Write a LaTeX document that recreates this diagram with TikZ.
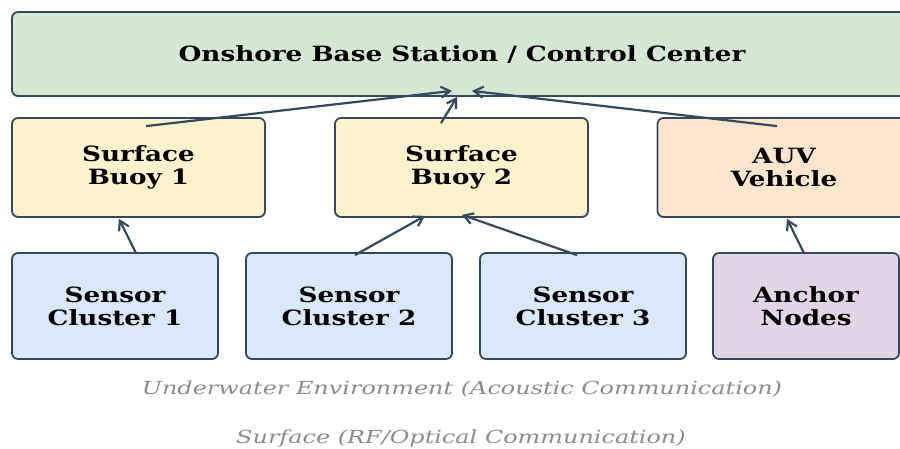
\documentclass[tikz,border=0pt]{standalone}
\usepackage{fontspec}
\setmainfont{DejaVu Serif}[FakeStretch=1.25]
\newfontfamily\notefont{DejaVu Serif}[FakeStretch=1.33]
\usetikzlibrary{arrows.meta}
\definecolor{edgecol}{HTML}{34495E}
\definecolor{basefill}{HTML}{D5E8D4}
\definecolor{buoyfill}{HTML}{FFF2CC}
\definecolor{auvfill}{HTML}{FFE6CC}
\definecolor{sensfill}{HTML}{DAE8FC}
\definecolor{anchfill}{HTML}{E1D5E7}
\begin{document}
\begin{tikzpicture}[x=1pt,y=1pt,>={Straight Barb[length=9pt,width=11pt]},
box/.style={draw=edgecol,line width=1.8pt,rounded corners=6pt,align=center,inner sep=0pt,
  font=\bfseries\fontsize{21}{23}\selectfont},
buoy/.style={box,fill=buoyfill,minimum width=253pt,minimum height=99pt},
sensor/.style={box,fill=sensfill,minimum width=206pt,minimum height=106pt},
flow/.style={->,line width=2.2pt,draw=edgecol},
note/.style={font=\notefont\itshape\fontsize{18}{21}\selectfont,text=black!45}]
\useasboundingbox (0,0) rectangle (900,-449);
\node[box,fill=basefill,minimum width=900pt,minimum height=84pt] (base) at (462,-54)
{Onshore Base Station / Control Center};
\node[buoy] (buoy1) at (138.5,-167.5) {Surface\\Buoy 1};
\node[buoy] (buoy2) at (461.5,-167.5) {Surface\\Buoy 2};
\node[buoy,fill=auvfill] (auv) at (784,-167.5) {AUV\\Vehicle};
\node[sensor] (sens1) at (115,-306) {Sensor\\Cluster 1};
\node[sensor] (sens2) at (349,-306) {Sensor\\Cluster 2};
\node[sensor] (sens3) at (583,-306) {Sensor\\Cluster 3};
\node[sensor,fill=anchfill,minimum width=186pt] (anchor) at (806,-306) {Anchor\\Nodes};
\node[note] (uwlabel) at (462,-389) {Underwater Environment (Acoustic Communication)};
\node[note] (surflabel) at (461,-439) {Surface (RF/Optical Communication)};
% acoustic links
\draw[flow] ([shift={(21,-1)}]sens1.north)--([shift={(-19.5,-1)}]buoy1.south);
\draw[flow] ([shift={(6,-3)}]sens2.north)--([shift={(-36.5,2)}]buoy2.south);
\draw[flow] ([shift={(-6,-3)}]sens3.north)--([shift={(0.5,3)}]buoy2.south);
\draw[flow] ([shift={(-2,-1)}]anchor.north)--([shift={(3,-1)}]auv.south);
% surface links
\draw[flow] ([shift={(7.5,-9)}]buoy1.north)--([shift={(-10,6)}]base.south);
\draw[flow] ([shift={(-20.5,-6)}]buoy2.north)--([shift={(-5,0)}]base.south);
\draw[flow] ([shift={(-7,-9)}]auv.north)--([shift={(10,6)}]base.south);
\end{tikzpicture}
\end{document}
